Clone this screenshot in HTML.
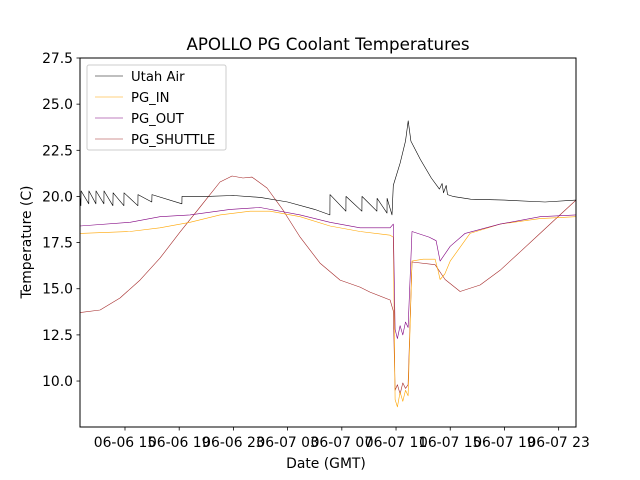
<!DOCTYPE html>
<html><head><meta charset="utf-8"><style>
html,body{margin:0;padding:0;background:#fff;}
svg{display:block;font-family:"DejaVu Sans","Liberation Sans",sans-serif;}
</style></head><body>
<svg id="chart" width="640" height="480" viewBox="0 0 640 480" xmlns="http://www.w3.org/2000/svg">
<rect width="640" height="480" fill="#fff"/>
<text x="328" y="50" font-size="16.7" text-anchor="middle">APOLLO PG Coolant Temperatures</text>
<g id="plot"></g>
<rect x="80" y="58" width="496" height="369" fill="none" stroke="#000" stroke-width="1"/>
<g id="axes"></g>
<text x="326" y="468" font-size="13.9" text-anchor="middle">Date (GMT)</text>
<text transform="translate(31,242) rotate(-90)" font-size="13.9" text-anchor="middle">Temperature (C)</text>
<g>
<rect x="87" y="65" width="139" height="85" fill="#fff" fill-opacity="0.8" stroke="#ccc" rx="2"/>
<line x1="95" y1="76" x2="123" y2="76" stroke="#000" stroke-width="0.6"/>
<text x="131" y="81" font-size="13.2">Utah Air</text>
<line x1="95" y1="97" x2="123" y2="97" stroke="orange" stroke-width="0.6"/>
<text x="131" y="102" font-size="13.2">PG_IN</text>
<line x1="95" y1="118" x2="123" y2="118" stroke="purple" stroke-width="0.6"/>
<text x="131" y="123" font-size="13.2">PG_OUT</text>
<line x1="95" y1="139" x2="123" y2="139" stroke="brown" stroke-width="0.6"/>
<text x="131" y="144" font-size="13.2">PG_SHUTTLE</text>
</g>
</svg>
<script>
const xTickHours=[15,19,23,27,31,35,39,43,47];
const xTickLabels=["06-06 15","06-06 19","06-06 23","06-07 03","06-07 07","06-07 11","06-07 15","06-07 19","06-07 23"];
const yTicks=[10,12.5,15,17.5,20,22.5,25,27.5];
const airH=[11.68,11.75,11.76,12.33,12.34,12.85,12.86,13.44,13.45,14.11,14.12,14.92,14.93,15.95,15.96,16.98,16.99,19.2,19.21,21,23,25,27,29,30.12,30.13,31.3,31.31,32.48,32.49,33.59,33.6,34.33,34.34,34.7,34.8,35.3,35.7,35.9,36.1,36.8,37.6,38.2,38.4,38.5,38.7,38.8,39.2,40.5,43,46,48.28];
const airV=[20.1,19.5,20.3,19.6,20.3,19.6,20.3,19.6,20.3,19.5,20.2,19.5,20.2,19.5,20.1,19.7,20.1,19.6,20.0,20.0,20.05,19.95,19.7,19.3,19.0,20.1,19.2,20.0,19.2,20.0,19.2,19.9,19.1,19.9,19.0,20.6,21.8,23.0,24.1,23.0,22.0,21.0,20.4,20.7,20.2,20.6,20.1,20.0,19.85,19.8,19.7,19.8];
const inH=[11.68,15.37,17.58,19.8,22.01,24.23,25.7,27.92,30.13,32.34,34.56,34.8,34.93,35.1,35.3,35.5,35.7,35.89,36.18,37.0,37.88,38.1,38.25,38.6,39.0,40.46,42.68,45.63,48.28];
const inV=[18.0,18.1,18.3,18.6,19.0,19.2,19.2,18.9,18.4,18.1,17.9,17.8,9.0,8.6,9.4,8.9,9.5,9.2,16.5,16.6,16.6,16.0,15.5,15.8,16.5,18.0,18.5,18.8,18.9];
const outH=[11.68,15.37,17.58,19.8,22.75,24.97,27.92,30.13,32.34,34.56,34.8,34.93,35.1,35.3,35.5,35.7,35.89,36.18,37.44,37.96,38.25,39.0,40.1,42.68,45.63,48.28];
const outV=[18.4,18.6,18.9,19.0,19.3,19.4,19.0,18.6,18.3,18.3,18.5,12.8,12.3,13.0,12.5,13.2,12.9,18.1,17.8,17.6,16.5,17.3,18.0,18.5,18.9,19.0];
const shH=[11.68,13.16,14.63,16.11,17.58,19.06,20.54,22.01,22.9,23.71,24.37,25.48,26.66,27.92,29.39,30.87,32.34,33.08,34.56,34.8,34.93,35.1,35.3,35.5,35.7,35.89,36.18,37.88,38.62,39.73,41.2,42.68,44.16,45.63,47.1,48.28];
const shV=[13.71,13.85,14.5,15.47,16.66,18.07,19.43,20.78,21.11,21.0,21.05,20.46,19.26,17.8,16.39,15.47,15.09,14.82,14.39,13.8,9.5,9.8,9.3,9.9,9.6,9.8,16.45,16.3,15.5,14.85,15.2,16.0,17.0,18.0,19.0,19.8];
const x0=80,x1=576,h0=11.68,h1=48.28,yTop=58,yBot=427,v0=7.51,v1=27.5;
function sx(h){return x0+(h-h0)/(h1-h0)*(x1-x0);}
function sy(v){return yBot-(v-v0)/(v1-v0)*(yBot-yTop);}
const NS="http://www.w3.org/2000/svg";
const axes=document.getElementById('axes'),plot=document.getElementById('plot');
function mk(t,a,p){const e=document.createElementNS(NS,t);for(const k in a)e.setAttribute(k,a[k]);p.appendChild(e);return e;}
xTickHours.forEach((h,i)=>{const x=sx(h);
const l=mk('line',{x1:x,y1:427,x2:x,y2:430.5,stroke:'#000','stroke-width':0.8},axes);


const t=mk('text',{x:x,y:447,'font-size':13.9,'text-anchor':'middle'},axes);t.textContent=xTickLabels[i];

});
yTicks.forEach(v=>{const y=sy(v);
const l=mk('line',{x1:76.5,y1:y,x2:80,y2:y,stroke:'#000','stroke-width':0.8},axes);


const t=mk('text',{x:73,y:y+5,'font-size':13.9,'text-anchor':'end'},axes);t.textContent=v.toFixed(1);

});
function series(H,V,c,name){const d=H.map((h,i)=>(i?'L':'M')+sx(h).toFixed(1)+','+sy(V[i]).toFixed(1)).join('');
const p=mk('path',{d:d,fill:'none',stroke:c,'stroke-width':0.6,'stroke-linejoin':'round'},plot);

}
series(shH,shV,'brown','pg-shuttle-line');
series(inH,inV,'orange','pg-in-line');
series(outH,outV,'purple','pg-out-line');
series(airH,airV,'#000','utah-air-line');
</script>
</body></html>
